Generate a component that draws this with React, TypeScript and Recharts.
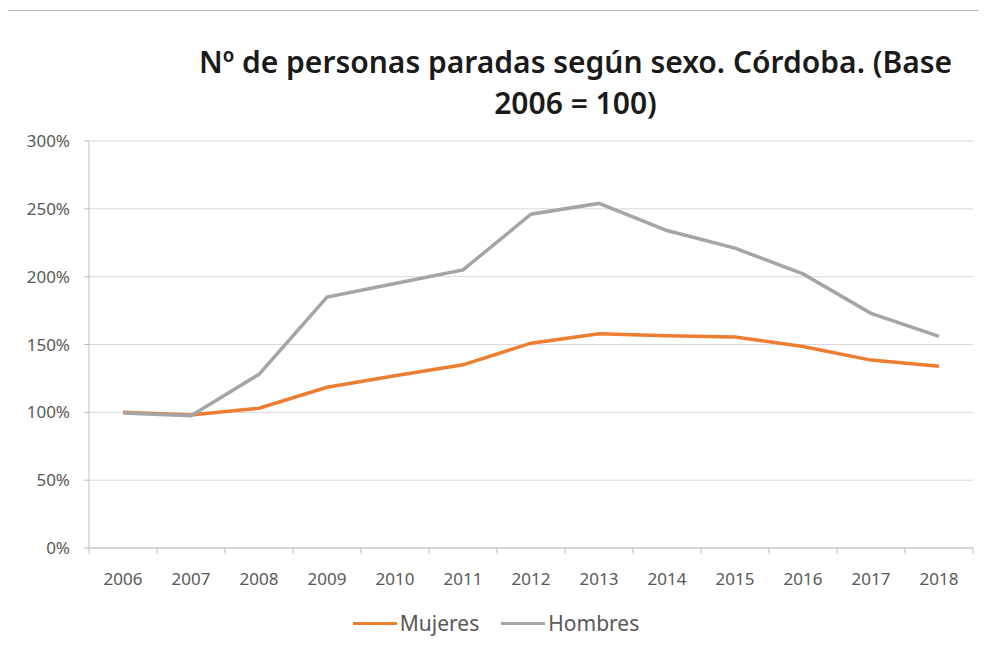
import { LineChart, Line, XAxis, YAxis, CartesianGrid, Legend } from 'recharts';

const years = ['2006', '2007', '2008', '2009', '2010', '2011', '2012', '2013', '2014', '2015', '2016', '2017', '2018'];
const mujeres = [100, 98, 103, 118.5, 127, 135, 151, 158, 156.5, 155.5, 148.5, 138.5, 134];
const hombres = [99.5, 97.5, 128, 185, 195, 205, 246, 254, 234, 221, 202, 173, 156];
const yTicks = [0, 50, 100, 150, 200, 250, 300];
const seriesOrder = ['Mujeres', 'Hombres'];

const data = years.map((year, i) => ({ year, mujeres: mujeres[i], hombres: hombres[i] }));

const FONT = '"Noto Sans", sans-serif';
const HALF_STEP = 34;

const YearTick = (props: any) => {
  const { x, y, payload, index, visibleTicksCount } = props;
  const last = index === visibleTicksCount - 1;
  return (
    <g>
      <line x1={x - HALF_STEP} y1={y} x2={x - HALF_STEP} y2={y + 6} stroke="#bfbfbf" />
      {last && <line x1={x + HALF_STEP} y1={y} x2={x + HALF_STEP} y2={y + 6} stroke="#bfbfbf" />}
      <text x={x} y={y + 37} textAnchor="middle" fill="#595959" fontSize={17} fontFamily={FONT}>
        {payload.value}
      </text>
    </g>
  );
};

const LegendContent = (props: any) => {
  const items = [...(props.payload || [])].sort(
    (a: any, b: any) => seriesOrder.indexOf(a.value) - seriesOrder.indexOf(b.value)
  );
  return (
    <div style={{ display: 'flex', justifyContent: 'center', paddingLeft: 20, fontFamily: FONT, fontSize: 21, color: '#595959' }}>
      {items.map((item: any) => (
        <div key={item.value} style={{ display: 'flex', alignItems: 'center', marginRight: 22 }}>
          <div style={{ width: 44, height: 3, background: item.color, marginRight: 3 }} />
          <span>{item.value}</span>
        </div>
      ))}
    </div>
  );
};

export default function App() {
  return (
    <div
      style={{
        position: 'relative',
        width: 978,
        height: 640,
        marginTop: 2,
        marginLeft: -1,
        borderTop: '1px solid #bdbdbd',
        borderLeft: '1px solid #bdbdbd',
      }}
    >
      <div
        style={{
          position: 'absolute',
          top: 30,
          left: 150,
          width: 835,
          textAlign: 'center',
          fontFamily: FONT,
          fontWeight: 600,
          fontSize: 30,
          lineHeight: '41px',
          color: '#1a1a1a',
        }}
      >
        Nº de personas paradas según sexo. Córdoba. (Base
        <br />
        2006 = 100)
      </div>
      <LineChart width={978} height={640} data={data} margin={{ top: 130, right: 13, left: 0, bottom: 63 }}>
        <CartesianGrid vertical={false} stroke="#d9d9d9" />
        <XAxis
          dataKey="year"
          height={40}
          padding={{ left: HALF_STEP, right: HALF_STEP }}
          axisLine={{ stroke: '#bfbfbf' }}
          tickLine={false}
          tickSize={0}
          tickMargin={0}
          interval={0}
          tick={<YearTick />}
        />
        <YAxis
          width={81}
          domain={[0, 300]}
          ticks={yTicks}
          interval={0}
          tickFormatter={(v: number) => `${v}%`}
          axisLine={{ stroke: '#bfbfbf' }}
          tickLine={{ stroke: '#bfbfbf' }}
          tickSize={5}
          tickMargin={14}
          tick={{ fill: '#595959', fontSize: 17, fontFamily: FONT }}
        />
        <Legend
          layout="vertical"
          align="center"
          verticalAlign="middle"
          content={<LegendContent />}
          wrapperStyle={{ position: 'absolute', top: 598, left: 0, width: 978 }}
        />
        <Line name="Mujeres" dataKey="mujeres" stroke="#ED7D31" strokeWidth={3.5} dot={false} isAnimationActive={false} />
        <Line name="Hombres" dataKey="hombres" stroke="#A5A5A5" strokeWidth={3.5} dot={false} isAnimationActive={false} />
      </LineChart>
    </div>
  );
}
